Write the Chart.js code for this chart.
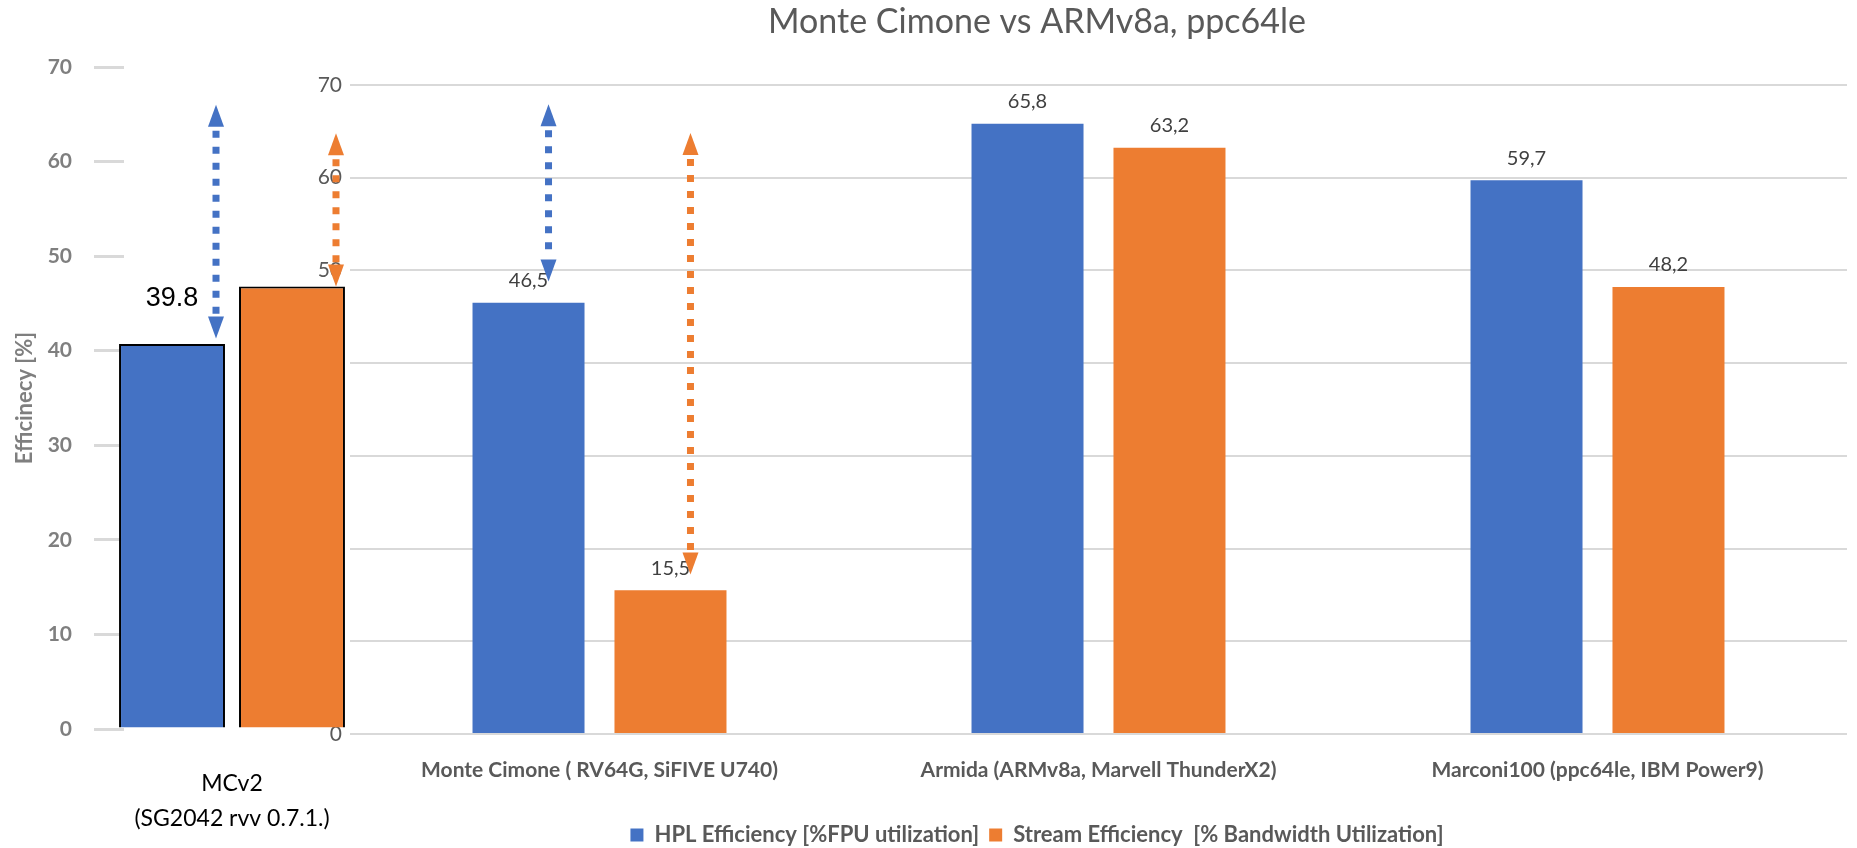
<!DOCTYPE html>
<html>
<head>
<meta charset="utf-8">
<script src="https://cdn.jsdelivr.net/npm/chart.js@4"></script>
<style>
  html, body { margin: 0; padding: 0; background: #fff; overflow: hidden; }
  #wrap { position: relative; width: 1857px; height: 848px; }
  #mainChart { position: absolute; left: 227px; top: 0; }
  #mcChart { position: absolute; left: 0; top: 0; }
</style>
</head>
<body>
<div id="wrap">
  <canvas id="mainChart" width="1630" height="856"></canvas>
  <canvas id="mcChart" width="380" height="848"></canvas>
</div>
<script>
// main comparison
const categories = [
    "Monte Cimone ( RV64G, SiFIVE U740)",
    "Armida (ARMv8a, Marvell ThunderX2)",
    "Marconi100 (ppc64le, IBM Power9)"
];
const hplValues = [46.5, 65.8, 59.7];
const streamValues = [15.5, 63.2, 48.2];

// MCv2 inset on the left
const mcCategory = [["MCv2", "(SG2042 rvv 0.7.1.)"]];
const mcHpl = [40.7];
const mcStream = [46.8];
const mcNotes = ["39.8", ""];

// dotted double arrows (values on each chart's own y scale)
const mainArrows = [
    { dataset: 0, index: 0, from: 48.8, to: 67.9 },
    { dataset: 1, index: 0, from: 17.2, to: 64.8 }
];
const mcArrows = [
    { dataset: 0, index: 0, from: 41.3, to: 66.0 },
    { dataset: 1, index: 0, from: 46.8, to: 63.0 }
];

const seriesNames = ["HPL Efficiency [%FPU utilization]", "Stream Efficiency  [% Bandwidth Utilization]"];
const BLUE = "#4472C4";
const ORANGE = "#ED7D31";

Chart.defaults.font.family = "Lato";

const valueLabels = {
    id: "valueLabels",
    afterDatasetsDraw(chart, args, opts) {
        const ctx = chart.ctx;
        ctx.save();
        ctx.font = opts.font;
        ctx.fillStyle = opts.color;
        ctx.textAlign = "center";
        ctx.textBaseline = "middle";
        chart.data.datasets.forEach((ds, i) => {
            chart.getDatasetMeta(i).data.forEach((bar, j) => {
                const text = opts.text(ds.data[j], i, j);
                if (text) ctx.fillText(text, bar.x, bar.y - opts.gap);
            });
        });
        ctx.restore();
    }
};

const arrows = {
    id: "arrows",
    afterDatasetsDraw(chart, args, opts) {
        const ctx = chart.ctx;
        const y = chart.scales.y;
        const head = 22, half = 8;
        opts.list.forEach(a => {
            const bar = chart.getDatasetMeta(a.dataset).data[a.index];
            const color = chart.data.datasets[a.dataset].backgroundColor;
            const x = bar.x + opts.shift;
            const yTop = y.getPixelForValue(Math.max(a.from, a.to));
            const yBot = y.getPixelForValue(Math.min(a.from, a.to));
            ctx.save();
            ctx.strokeStyle = color;
            ctx.fillStyle = color;
            ctx.lineWidth = 7;
            ctx.setLineDash([7, 9]);
            ctx.beginPath();
            ctx.moveTo(x, yTop + head + 4);
            ctx.lineTo(x, yBot - head - 2);
            ctx.stroke();
            ctx.setLineDash([]);
            ctx.beginPath();
            ctx.moveTo(x, yTop);
            ctx.lineTo(x - half, yTop + head);
            ctx.lineTo(x + half, yTop + head);
            ctx.closePath();
            ctx.fill();
            ctx.beginPath();
            ctx.moveTo(x, yBot);
            ctx.lineTo(x - half, yBot - head);
            ctx.lineTo(x + half, yBot - head);
            ctx.closePath();
            ctx.fill();
            ctx.restore();
        });
    }
};

new Chart(document.getElementById("mainChart"), {
    type: "bar",
    data: {
        labels: categories,
        datasets: [
            { label: seriesNames[0], data: hplValues, backgroundColor: BLUE,
              categoryPercentage: 0.569, barPercentage: 0.789 },
            { label: seriesNames[1], data: streamValues, backgroundColor: ORANGE,
              categoryPercentage: 0.569, barPercentage: 0.789 }
        ]
    },
    options: {
        responsive: false,
        animation: false,
        layout: { padding: { left: 0, right: 10, top: 0, bottom: 0 } },
        scales: {
            x: {
                grid: { display: false },
                border: { display: false },
                ticks: { color: "#595959", font: { size: 21, weight: "bold" }, padding: 16 },
                afterFit(axis) { axis.height = 80; }
            },
            y: {
                min: 0,
                max: 70,
                ticks: { stepSize: 10, color: "#595959", font: { size: 21 }, padding: 8 },
                grid: { color: "#d9d9d9", lineWidth: 2, drawTicks: false },
                border: { display: false },
                afterFit(axis) { axis.width = 123; }
            }
        },
        plugins: {
            title: {
                display: true,
                text: "Monte Cimone vs ARMv8a, ppc64le",
                color: "#595959",
                font: { size: 34, weight: "normal" },
                padding: { top: 2, bottom: 42 }
            },
            legend: {
                position: "bottom",
                labels: {
                    color: "#595959",
                    font: { size: 22, weight: "bold" },
                    boxWidth: 13,
                    boxHeight: 13,
                    padding: 10
                }
            },
            tooltip: { enabled: false },
            valueLabels: {
                font: "20px Lato",
                color: "#404040",
                gap: 22,
                text: v => v.toFixed(1).replace(".", ",")
            },
            arrows: { list: mainArrows, shift: 20 }
        }
    },
    plugins: [valueLabels, arrows]
});

new Chart(document.getElementById("mcChart"), {
    type: "bar",
    data: {
        labels: mcCategory,
        datasets: [
            { label: seriesNames[0], data: mcHpl, backgroundColor: BLUE,
              borderColor: "#000", borderWidth: 2, clip: false,
              categoryPercentage: 1.111, barPercentage: 0.883 },
            { label: seriesNames[1], data: mcStream, backgroundColor: ORANGE,
              borderColor: "#000", borderWidth: 2, clip: false,
              categoryPercentage: 1.111, barPercentage: 0.883 }
        ]
    },
    options: {
        responsive: false,
        animation: false,
        layout: { padding: { left: 0, right: 40, top: 67, bottom: 0 } },
        scales: {
            x: {
                grid: { display: false },
                border: { display: false },
                ticks: { color: "#000", font: { size: 23, lineHeight: 1.52 }, padding: 29 },
                afterFit(axis) { axis.height = 119; }
            },
            y: {
                min: 0,
                max: 70,
                ticks: { stepSize: 10, color: "#7f7f7f", font: { size: 21, weight: "bold" }, padding: 22 },
                grid: { color: "#d9d9d9", lineWidth: 3, drawOnChartArea: false, drawTicks: true, tickLength: 30 },
                border: { display: false },
                title: {
                    display: true,
                    text: "Efficinecy [%]",
                    color: "#7f7f7f",
                    font: { size: 22, weight: "bold" },
                    padding: { top: 12, bottom: 0 }
                },
                afterFit(axis) { axis.width = 124; }
            }
        },
        plugins: {
            legend: { display: false },
            tooltip: { enabled: false },
            valueLabels: {
                font: "27px 'Liberation Sans'",
                color: "#000",
                gap: 46,
                text: (v, i) => mcNotes[i]
            },
            arrows: { list: mcArrows, shift: 44 }
        }
    },
    plugins: [valueLabels, arrows]
});
</script>
</body>
</html>
